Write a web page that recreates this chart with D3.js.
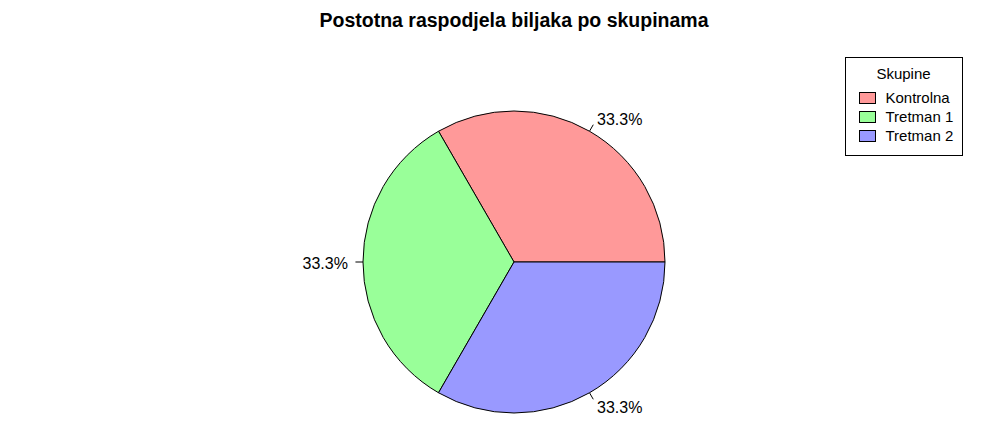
<!DOCTYPE html>
<html>
<head>
<meta charset="utf-8">
<script src="https://cdn.jsdelivr.net/npm/d3@7"></script>
<style>
  body { margin: 0; background: #fff; }
  svg { font-family: "Liberation Sans", Arial, sans-serif; }
</style>
</head>
<body>
<script>
var categories = ['Kontrolna', 'Tretman 1', 'Tretman 2'];
var counts = [10, 10, 10];
var colors = ['#FF9999', '#99FF99', '#9999FF'];
var chartTitle = 'Postotna raspodjela biljaka po skupinama';
var legendTitle = 'Skupine';

var width = 1003, height = 442;
var cx = 514, cy = 262, radius = 151;

var svg = d3.select('body').append('svg')
    .attr('width', width)
    .attr('height', height);

svg.append('text')
    .attr('x', cx)
    .attr('y', 27)
    .attr('text-anchor', 'middle')
    .attr('font-weight', 'bold')
    .attr('font-size', '19.5px')
    .text(chartTitle);

var total = d3.sum(counts);
var data = categories.map(function(c, i) { return {name: c, value: counts[i], color: colors[i]}; });

// R style: start at 3 o'clock, go counterclockwise
var pie = d3.pie()
    .sort(null)
    .value(function(d) { return d.value; })
    .startAngle(Math.PI / 2)
    .endAngle(Math.PI / 2 - 2 * Math.PI);

var arc = d3.arc().innerRadius(0).outerRadius(radius);

var g = svg.append('g')
    .attr('transform', 'translate(' + cx + ',' + cy + ')');

var arcs = pie(data);

g.selectAll('path.slice')
    .data(arcs)
    .enter().append('path')
    .attr('class', 'slice')
    .attr('d', arc)
    .attr('fill', function(d) { return d.data.color; })
    .attr('stroke', '#000')
    .attr('stroke-width', 1);

var fmt = d3.format('.1f');

arcs.forEach(function(d) {
  var mid = (d.startAngle + d.endAngle) / 2;
  var sx = Math.sin(mid), sy = -Math.cos(mid);
  g.append('line')
    .attr('x1', sx * radius).attr('y1', sy * radius)
    .attr('x2', sx * radius * 1.05).attr('y2', sy * radius * 1.05)
    .attr('stroke', '#000');
  g.append('text')
    .attr('x', sx * radius * 1.1)
    .attr('y', sy * radius * 1.1 + (sy < 0 ? 1.5 : (sy > 0.01 ? 1.5 : 0)))
    .attr('dy', '0.35em')
    .attr('text-anchor', sx < 0 ? 'end' : 'start')
    .attr('font-size', '16px')
    .text(fmt(d.data.value / total * 100) + '%');
});

// legend
var legend = svg.append('g').attr('transform', 'translate(845.5,57.5)');
legend.append('rect')
    .attr('width', 117)
    .attr('height', 98)
    .attr('fill', '#fff')
    .attr('stroke', '#000');
legend.append('text')
    .attr('x', 58)
    .attr('y', 21)
    .attr('text-anchor', 'middle')
    .attr('font-size', '15px')
    .text(legendTitle);

data.forEach(function(d, i) {
  var row = legend.append('g').attr('transform', 'translate(0,' + (40 + i * 19) + ')');
  row.append('rect')
    .attr('x', 14)
    .attr('y', -5)
    .attr('width', 16)
    .attr('height', 11)
    .attr('fill', d.color)
    .attr('stroke', '#000');
  row.append('text')
    .attr('x', 40)
    .attr('y', 0)
    .attr('dy', '0.35em')
    .attr('font-size', '15px')
    .text(d.name);
});
</script>
</body>
</html>
